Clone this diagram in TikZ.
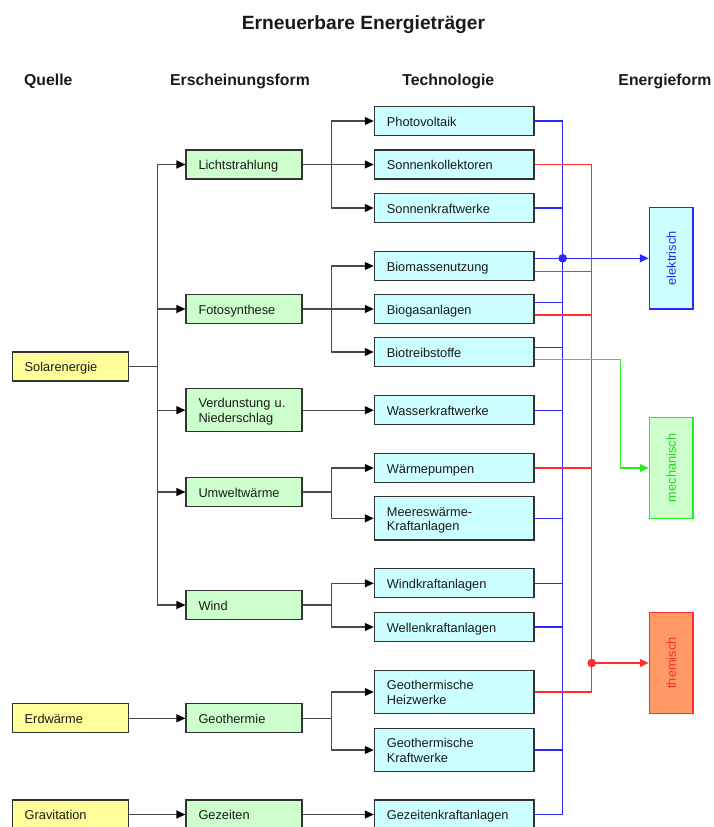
\documentclass[tikz,border=0pt]{standalone}
\usepackage{fontspec}
\setmainfont{Liberation Sans}
\usetikzlibrary{arrows.meta}
\definecolor{qfill}{HTML}{FFFF99}
\definecolor{efill}{HTML}{CCFFCC}
\definecolor{tfill}{HTML}{CCFFFF}
\definecolor{hfill}{HTML}{FF9966}
\definecolor{boxline}{HTML}{333333}
\definecolor{lineg}{HTML}{4A4A4A}
\definecolor{txt}{HTML}{1A1A1A}
\definecolor{bline}{RGB}{40,40,255}
\definecolor{rline}{RGB}{255,45,45}
\definecolor{gline}{RGB}{40,235,40}
\begin{document}
\begin{tikzpicture}[x=1pt,y=-1pt,
  box/.style={draw=boxline, line width=1.2pt, inner xsep=12.5pt, inner ysep=0pt,
    align=left, font=\fontsize{12.8}{14.5}\selectfont, text=txt, minimum height=29pt,
    execute at begin node={\rule{0pt}{12.7pt}}, execute at end node={\rule[-2.7pt]{0pt}{0pt}}},
  qbox/.style={box, fill=qfill, text width=91pt},
  ebox/.style={box, fill=efill, text width=91pt},
  tbox/.style={box, fill=tfill, text width=134.7pt},
  fbox/.style={line width=1.2pt, rotate=90, minimum width=101.3pt, minimum height=43.7pt,
    inner sep=0pt, font=\fontsize{12.8}{14.5}\selectfont},
  hdr/.style={font=\fontsize{15.8}{18}\selectfont\bfseries, text=txt, anchor=base, inner sep=0pt},
  conn/.style={draw=lineg, line width=1.2pt},
  arr/.style={conn, -{Triangle[length=9pt,width=8pt,color=black]}},
  bl/.style={draw=bline, line width=1.2pt},
  rd/.style={draw=rline, line width=1.2pt},
  gn/.style={draw=gline, line width=1.2pt}
]
\useasboundingbox (0,0) rectangle (713,827);

% headers
\node[hdr, font=\fontsize{19.2}{22}\selectfont\bfseries] (title) at (363.5,29) {Erneuerbare Energieträger};
\node[hdr] (h1) at (48.3,85) {Quelle};
\node[hdr] (h2) at (240,85) {Erscheinungsform};
\node[hdr] (h3) at (448.3,85) {Technologie};
\node[hdr] (h4) at (665,85) {Energieform};

% Quelle
\node[qbox] (sol)  at (70.2,366.5) {Solarenergie};
\node[qbox] (erd)  at (70.2,718.3) {Erdwärme};
\node[qbox] (grav) at (70.2,814.5) {Gravitation};

% Erscheinungsform
\node[ebox] (licht) at (244,164.5) {Lichtstrahlung};
\node[ebox] (foto)  at (244,309) {Fotosynthese};
\node[ebox, minimum height=43pt] (verd) at (244,410.2) {Verdunstung u.\\Niederschlag};
\node[ebox] (umw)   at (244,492) {Umweltwärme};
\node[ebox] (wind)  at (244,605) {Wind};
\node[ebox] (geo)   at (244,718.3) {Geothermie};
\node[ebox] (gez)   at (244,814.5) {Gezeiten};

% Technologie
\node[tbox] (pv)   at (454.2,121) {Photovoltaik};
\node[tbox] (sk)   at (454.2,164.5) {Sonnenkollektoren};
\node[tbox] (skw)  at (454.2,208) {Sonnenkraftwerke};
\node[tbox] (bio)  at (454.2,266) {Biomassenutzung};
\node[tbox] (biog) at (454.2,309) {Biogasanlagen};
\node[tbox] (bt)   at (454.2,352) {Biotreibstoffe};
\node[tbox] (wk)   at (454.2,410.2) {Wasserkraftwerke};
\node[tbox] (wp)   at (454.2,468) {Wärmepumpen};
\node[tbox, minimum height=43.3pt] (mw) at (454.2,518.3) {Meereswärme-\\Kraftanlagen};
\node[tbox] (wka)  at (454.2,583.3) {Windkraftanlagen};
\node[tbox] (wel)  at (454.2,627) {Wellenkraftanlagen};
\node[tbox, minimum height=43.7pt] (hz) at (454.2,692) {Geothermische\\Heizwerke};
\node[tbox, minimum height=43.7pt] (gk) at (454.2,750) {Geothermische\\Kraftwerke};
\node[tbox] (gzk)  at (454.2,814.5) {Gezeitenkraftanlagen};

% Energieform
\node[fbox, draw=bline, fill=tfill, text=bline] (elek) at (671.2,258.3) {elektrisch};
\node[fbox, draw=gline, fill=efill, text=gline!90!black] (mech) at (671.2,468) {mechanisch};
\node[fbox, draw=rline, fill=hfill, text=rline] (them) at (671.2,663) {themisch};

% black connectors
\draw[conn] (sol.east) -- ++(29,0) coordinate (tr);
\foreach \n in {licht,foto,verd,umw,wind} \draw[arr] (tr) |- (\n.west);
\draw[arr] (licht.east) -- ++(29,0) |- (pv.west);
\draw[arr] (licht.east) -- (sk.west);
\draw[arr] (licht.east) -- ++(29,0) |- (skw.west);
\draw[arr] (foto.east) -- ++(29,0) |- (bio.west);
\draw[arr] (foto.east) -- (biog.west);
\draw[arr] (foto.east) -- ++(29,0) |- (bt.west);
\draw[arr] (verd.east) -- (wk.west);
\draw[arr] (umw.east) -- ++(29,0) |- (wp.west);
\draw[arr] (umw.east) -- ++(29,0) |- (mw.west);
\draw[arr] (wind.east) -- ++(29,0) |- (wka.west);
\draw[arr] (wind.east) -- ++(29,0) |- (wel.west);
\draw[arr] (geo.east) -- ++(29,0) |- (hz.west);
\draw[arr] (geo.east) -- ++(29,0) |- (gk.west);
\draw[arr] (erd.east) -- (geo.west);
\draw[arr] (grav.east) -- (gez.west);
\draw[arr] (gez.east) -- (gzk.west);

% blue bus
\coordinate (bx) at (562.7,0);
\draw[bl] (pv.east) -- (pv.east -| bx) -- (gzk.east -| bx) -- (gzk.east);
\foreach \n in {skw,wk,mw,wka,wel,gk} \draw[bl] (\n.east) -- (\n.east -| bx);
\draw[bl] ([yshift=7.7pt]bio.east) -- ([yshift=7.7pt]bio.east -| bx) coordinate (bdot);
\draw[bl] ([yshift=6.7pt]biog.east) -- ([yshift=6.7pt]biog.east -| bx);
\draw[bl] ([yshift=4.7pt]bt.east) -- ([yshift=4.7pt]bt.east -| bx);
\fill[bline] (bdot) circle (4.3);
\draw[bl, -{Triangle[length=9pt,width=8pt]}] (bdot) -- (elek.north);

% red bus
\coordinate (rx) at (591.7,0);
\draw[rd] (sk.east) -- (sk.east -| rx) -- (hz.east -| rx) -- (hz.east);
\draw[rd] (wp.east) -- (wp.east -| rx);
\draw[rd] ([yshift=-5.7pt]bio.east) -- ([yshift=-5.7pt]bio.east -| rx);
\draw[rd] ([yshift=-6pt]biog.east) -- ([yshift=-6pt]biog.east -| rx);
\coordinate (rdot) at (them.north -| rx);
\fill[rline] (rdot) circle (4.3);
\draw[rd, -{Triangle[length=9pt,width=8pt]}] (rdot) -- (them.north);

% green
\draw[gn, -{Triangle[length=9pt,width=8pt]}] ([yshift=-7.7pt]bt.east) -- ++(86,0) |- (mech.north);
\end{tikzpicture}
\end{document}
